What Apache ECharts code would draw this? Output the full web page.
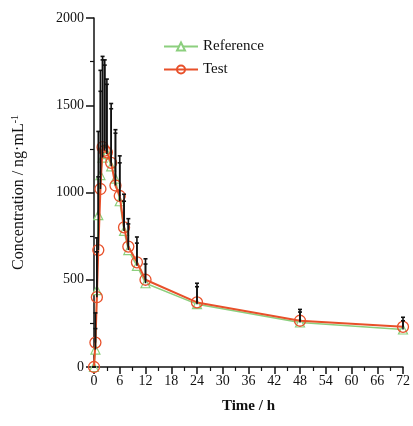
<!DOCTYPE html>
<html>
<head>
<meta charset="utf-8">
<script src="https://cdn.jsdelivr.net/npm/echarts@6/dist/echarts.min.js"></script>
<style>
  html, body { margin: 0; padding: 0; background: #fff; }
  #chart { width: 413px; height: 426px; }
</style>
</head>
<body>
<div id="chart"></div>
<script>
const times = [0, 0.33, 0.67, 1, 1.5, 2, 2.5, 3, 4, 5, 6, 7, 8, 10, 12, 24, 48, 72];
const testConc = [0, 140, 400, 670, 1020, 1260, 1240, 1230, 1170, 1040, 980, 800, 690, 600, 500, 370, 265, 230];
const refConc = [0, 100, 440, 870, 1100, 1200, 1250, 1220, 1150, 1080, 950, 780, 670, 580, 480, 360, 255, 215];
const testSD = [0, 170, 260, 420, 560, 520, 520, 420, 340, 300, 230, 190, 160, 145, 120, 110, 65, 55];
const refSD = [0, 120, 300, 480, 600, 560, 480, 400, 330, 280, 220, 170, 150, 130, 110, 100, 60, 50];

const font = "Liberation Serif";
const chart = echarts.init(document.getElementById("chart"));

function errorBars(conc, sd) {
  return {
    type: "custom",
    data: times.map((t, i) => [t, conc[i], conc[i] + sd[i]]),
    renderItem: function (params, api) {
      const base = api.coord([api.value(0), api.value(1)]);
      const top = api.coord([api.value(0), api.value(2)]);
      const style = { stroke: "#111", lineWidth: 1.6 };
      return {
        type: "group",
        children: [
          { type: "line", shape: { x1: base[0], y1: base[1], x2: top[0], y2: top[1] }, style },
          { type: "line", shape: { x1: top[0] - 2, y1: top[1], x2: top[0] + 2, y2: top[1] }, style },
        ],
      };
    },
    z: 4,
  };
}

chart.setOption({
  animation: false,
  grid: { left: 94, right: 8, top: 18, bottom: 59 },
  legend: {
    orient: "vertical",
    left: 158,
    top: 34,
    itemWidth: 34,
    itemHeight: 10,
    itemGap: 8,
    textStyle: { fontFamily: font, fontSize: 15, color: "#111" },
    data: ["Reference", "Test"],
  },
  xAxis: {
    type: "value",
    min: 0,
    max: 72,
    interval: 6,
    name: "Time / h",
    nameLocation: "middle",
    nameGap: 32,
    nameTextStyle: { fontFamily: font, fontSize: 15, fontWeight: "bold", color: "#111" },
    axisLine: { onZero: false, lineStyle: { color: "#111", width: 1.5 } },
    axisTick: { length: 7, lineStyle: { color: "#111", width: 1.5 } },
    minorTick: { show: true, splitNumber: 2, length: 4, lineStyle: { color: "#111", width: 1.2 } },
    axisLabel: { fontFamily: font, fontSize: 14, color: "#111", margin: 7 },
    splitLine: { show: false },
  },
  yAxis: {
    type: "value",
    min: 0,
    max: 2000,
    interval: 500,
    name: "Concentration / ng·mL{sup|-1}",
    nameLocation: "middle",
    nameGap: 66,
    nameTextStyle: {
      fontFamily: font,
      fontSize: 16,
      color: "#111",
      rich: { sup: { fontFamily: font, fontSize: 10, verticalAlign: "top", padding: [0, 0, 8, 0] } },
    },
    axisLine: { show: true, lineStyle: { color: "#111", width: 1.5 } },
    axisTick: { length: 8, lineStyle: { color: "#111", width: 1.5 } },
    minorTick: { show: true, splitNumber: 2, length: 4, lineStyle: { color: "#111", width: 1.2 } },
    axisLabel: { fontFamily: font, fontSize: 14, color: "#111", margin: 10, formatter: (v) => String(v) },
    splitLine: { show: false },
  },
  series: [
    {
      name: "Reference",
      type: "line",
      data: times.map((t, i) => [t, refConc[i]]),
      symbol: "triangle",
      symbolSize: 9,
      showAllSymbol: true,
      itemStyle: { color: "#fff", borderColor: "#8ccf7e", borderWidth: 1.2 },
      lineStyle: { color: "#8ccf7e", width: 1.5 },
      z: 2,
    },
    {
      name: "Test",
      type: "line",
      data: times.map((t, i) => [t, testConc[i]]),
      symbol: "circle",
      symbolSize: 11,
      showAllSymbol: true,
      itemStyle: { color: "rgba(255,255,255,0)", borderColor: "#e8502a", borderWidth: 1.3 },
      lineStyle: { color: "#e8502a", width: 2 },
      z: 3,
    },
    errorBars(refConc, refSD),
    errorBars(testConc, testSD),
  ],
});
</script>
</body>
</html>
